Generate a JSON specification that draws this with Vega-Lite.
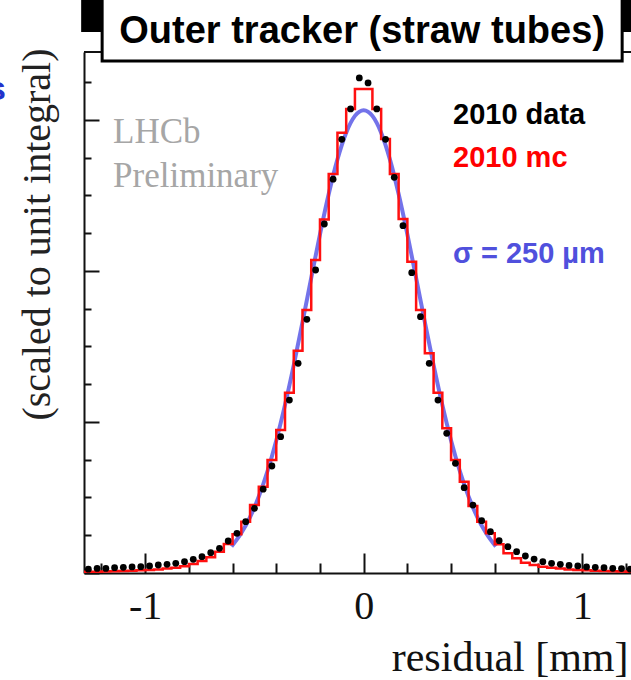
{
  "$schema": "https://vega.github.io/schema/vega-lite/v6.json",
  "width": 547,
  "height": 521,
  "autosize": "none",
  "padding": {"left": 84, "top": 52, "right": 0, "bottom": 107},
  "background": "white",
  "config": {"view": {"stroke": null}, "axis": {"grid": false}},
  "resolve": {"axis": {"x": "independent", "y": "independent"}},
  "datasets": {
    "hist": [
      {"x": -1.30, "data": 0.0005, "mc": 0.00014},
      {"x": -1.26, "data": 0.0005, "mc": 0.00015},
      {"x": -1.22, "data": 0.0006, "mc": 0.00017},
      {"x": -1.18, "data": 0.0006, "mc": 0.0002},
      {"x": -1.14, "data": 0.0007, "mc": 0.00022},
      {"x": -1.10, "data": 0.00075, "mc": 0.00025},
      {"x": -1.06, "data": 0.0008, "mc": 0.0003},
      {"x": -1.02, "data": 0.00084, "mc": 0.00035},
      {"x": -0.98, "data": 0.00093, "mc": 0.0004},
      {"x": -0.94, "data": 0.00106, "mc": 0.00048},
      {"x": -0.90, "data": 0.00115, "mc": 0.00058},
      {"x": -0.86, "data": 0.00128, "mc": 0.0007},
      {"x": -0.82, "data": 0.0015, "mc": 0.00088},
      {"x": -0.78, "data": 0.00181, "mc": 0.0012},
      {"x": -0.74, "data": 0.00216, "mc": 0.0016},
      {"x": -0.70, "data": 0.00269, "mc": 0.0021},
      {"x": -0.66, "data": 0.00327, "mc": 0.0028},
      {"x": -0.62, "data": 0.00424, "mc": 0.00384},
      {"x": -0.58, "data": 0.00526, "mc": 0.00512},
      {"x": -0.54, "data": 0.0068, "mc": 0.0068},
      {"x": -0.50, "data": 0.00857, "mc": 0.009},
      {"x": -0.46, "data": 0.0111, "mc": 0.01143},
      {"x": -0.42, "data": 0.01417, "mc": 0.01497},
      {"x": -0.38, "data": 0.01805, "mc": 0.01894},
      {"x": -0.34, "data": 0.0229, "mc": 0.02388},
      {"x": -0.30, "data": 0.02777, "mc": 0.02944},
      {"x": -0.26, "data": 0.0336, "mc": 0.03483},
      {"x": -0.22, "data": 0.04013, "mc": 0.04146},
      {"x": -0.18, "data": 0.04622, "mc": 0.04682},
      {"x": -0.14, "data": 0.05215, "mc": 0.05285},
      {"x": -0.10, "data": 0.05744, "mc": 0.05832},
      {"x": -0.06, "data": 0.06146, "mc": 0.06146},
      {"x": -0.02, "data": 0.06556, "mc": 0.0641},
      {"x": 0.02, "data": 0.0649, "mc": 0.0641},
      {"x": 0.06, "data": 0.06146, "mc": 0.06146},
      {"x": 0.10, "data": 0.05744, "mc": 0.05748},
      {"x": 0.14, "data": 0.05241, "mc": 0.05285},
      {"x": 0.18, "data": 0.046, "mc": 0.04689},
      {"x": 0.22, "data": 0.03977, "mc": 0.04123},
      {"x": 0.26, "data": 0.03395, "mc": 0.03483},
      {"x": 0.30, "data": 0.02777, "mc": 0.0291},
      {"x": 0.34, "data": 0.0229, "mc": 0.02388},
      {"x": 0.38, "data": 0.0185, "mc": 0.01916},
      {"x": 0.42, "data": 0.01453, "mc": 0.01497},
      {"x": 0.46, "data": 0.0113, "mc": 0.01209},
      {"x": 0.50, "data": 0.009, "mc": 0.00887},
      {"x": 0.54, "data": 0.00693, "mc": 0.0068},
      {"x": 0.58, "data": 0.00547, "mc": 0.00526},
      {"x": 0.62, "data": 0.00428, "mc": 0.0038},
      {"x": 0.66, "data": 0.00348, "mc": 0.0026},
      {"x": 0.70, "data": 0.00282, "mc": 0.00195},
      {"x": 0.74, "data": 0.00225, "mc": 0.00137},
      {"x": 0.78, "data": 0.00185, "mc": 0.00106},
      {"x": 0.82, "data": 0.0015, "mc": 0.00084},
      {"x": 0.86, "data": 0.00128, "mc": 0.0007},
      {"x": 0.90, "data": 0.00115, "mc": 0.00058},
      {"x": 0.94, "data": 0.001, "mc": 0.00048},
      {"x": 0.98, "data": 0.00093, "mc": 0.0004},
      {"x": 1.02, "data": 0.0008, "mc": 0.00035},
      {"x": 1.06, "data": 0.00075, "mc": 0.0003},
      {"x": 1.10, "data": 0.0007, "mc": 0.00025},
      {"x": 1.14, "data": 0.00062, "mc": 0.00022},
      {"x": 1.18, "data": 0.00058, "mc": 0.0002},
      {"x": 1.22, "data": 0.0005, "mc": 0.00017},
      {"x": 1.26, "data": 0.0005, "mc": 0.00015}
    ],
    "fit": [
      {"x": -0.605, "fit": 0.0035},
      {"x": -0.56, "fit": 0.00529},
      {"x": -0.52, "fit": 0.00741},
      {"x": -0.48, "fit": 0.01013},
      {"x": -0.44, "fit": 0.01351},
      {"x": -0.40, "fit": 0.01756},
      {"x": -0.36, "fit": 0.02227},
      {"x": -0.32, "fit": 0.02754},
      {"x": -0.28, "fit": 0.03322},
      {"x": -0.24, "fit": 0.03909},
      {"x": -0.20, "fit": 0.04485},
      {"x": -0.16, "fit": 0.05019},
      {"x": -0.12, "fit": 0.05478},
      {"x": -0.08, "fit": 0.05831},
      {"x": -0.04, "fit": 0.06054},
      {"x": 0.0, "fit": 0.0613},
      {"x": 0.04, "fit": 0.06054},
      {"x": 0.08, "fit": 0.05831},
      {"x": 0.12, "fit": 0.05478},
      {"x": 0.16, "fit": 0.05019},
      {"x": 0.20, "fit": 0.04485},
      {"x": 0.24, "fit": 0.03909},
      {"x": 0.28, "fit": 0.03322},
      {"x": 0.32, "fit": 0.02754},
      {"x": 0.36, "fit": 0.02227},
      {"x": 0.40, "fit": 0.01756},
      {"x": 0.44, "fit": 0.01351},
      {"x": 0.48, "fit": 0.01013},
      {"x": 0.52, "fit": 0.00741},
      {"x": 0.56, "fit": 0.00529},
      {"x": 0.605, "fit": 0.0035}
    ]
  },
  "layer": [
    {
      "data": {"name": "fit"},
      "mark": {"type": "line", "color": "#5a5ae6", "strokeWidth": 4, "opacity": 0.85, "interpolate": "monotone", "clip": true},
      "encoding": {
        "x": {
          "field": "x", "type": "quantitative",
          "scale": {"domain": [-1.28, 1.2235], "nice": false, "zero": false},
          "axis": {
            "orient": "bottom",
            "values": [-1, 0, 1],
            "tickSize": -20,
            "tickWidth": 2,
            "tickColor": "#111",
            "domainColor": "#111",
            "domainWidth": 2,
            "labelExpr": "datum.value < 0 ? '-' + abs(datum.value) : '' + datum.value",
            "labelFont": "Liberation Serif",
            "labelFontSize": 40,
            "labelColor": "#111",
            "labelPadding": 33,
            "labelFlush": false,
            "labelOverlap": false,
            "title": "residual [mm]",
            "titleFont": "Liberation Serif",
            "titleFontSize": 42,
            "titleFontWeight": "normal",
            "titleColor": "#111",
            "titleAlign": "right",
            "titleBaseline": "alphabetic",
            "titleX": 544,
            "titleY": 97
          }
        },
        "y": {
          "field": "fit", "type": "quantitative",
          "scale": {"domain": [0, 0.069], "nice": false, "zero": false},
          "axis": {
            "orient": "left",
            "values": [0, 0.02, 0.04, 0.06],
            "tickSize": -15,
            "tickWidth": 2,
            "tickColor": "#111",
            "domainColor": "#111",
            "domainWidth": 2,
            "labels": false,
            "title": "(scaled to unit integral)",
            "titleFont": "Liberation Serif",
            "titleFontSize": 40,
            "titleFontWeight": "normal",
            "titleColor": "#222",
            "titleAngle": -90,
            "titleAlign": "center",
            "titleBaseline": "middle",
            "titleX": -47,
            "titleY": 182
          }
        }
      }
    },
    {
      "data": {"name": "hist"},
      "mark": {"type": "line", "color": "#ff1010", "strokeWidth": 2.5, "interpolate": "step", "clip": true},
      "encoding": {
        "x": {
          "field": "x", "type": "quantitative",
          "axis": {
            "orient": "bottom",
            "values": [-1.2, -0.8, -0.6, -0.4, -0.2, 0.2, 0.4, 0.6, 0.8, 1.2],
            "tickSize": -10,
            "tickWidth": 2,
            "tickColor": "#111",
            "domain": false,
            "labels": false,
            "title": null
          }
        },
        "y": {
          "field": "mc", "type": "quantitative",
          "axis": {
            "orient": "left",
            "values": [0.005, 0.01, 0.015, 0.025, 0.03, 0.035, 0.045, 0.05, 0.055, 0.065],
            "tickSize": -7,
            "tickWidth": 2,
            "tickColor": "#111",
            "domain": false,
            "labels": false,
            "title": null
          }
        }
      }
    },
    {
      "data": {"name": "hist"},
      "mark": {"type": "circle", "color": "black", "size": 46, "opacity": 1, "clip": true},
      "encoding": {
        "x": {"field": "x", "type": "quantitative", "axis": null},
        "y": {"field": "data", "type": "quantitative", "axis": null}
      }
    },
    {
      "data": {"values": [{"v": 0.069}]},
      "mark": {"type": "rule", "color": "#111", "strokeWidth": 2},
      "encoding": {"y": {"field": "v", "type": "quantitative", "axis": null}}
    },
    {
      "data": {"values": [{"x": -1.293, "x2": 1.3, "y": 0.07166, "y2": 0.078}]},
      "mark": {"type": "rect", "color": "black"},
      "encoding": {
        "x": {"field": "x", "type": "quantitative", "axis": null},
        "x2": {"field": "x2"},
        "y": {"field": "y", "type": "quantitative", "axis": null},
        "y2": {"field": "y2"}
      }
    },
    {
      "data": {"values": [{"x": -1.197, "x2": 1.183, "y": 0.06781, "y2": 0.0775}]},
      "mark": {"type": "rect", "fill": "white", "stroke": "black", "strokeWidth": 3},
      "encoding": {
        "x": {"field": "x", "type": "quantitative", "axis": null},
        "x2": {"field": "x2"},
        "y": {"field": "y", "type": "quantitative", "axis": null},
        "y2": {"field": "y2"}
      }
    },
    {
      "data": {"values": [{"x": -0.007, "y": 0.07165, "t": "Outer tracker (straw tubes)"}]},
      "mark": {"type": "text", "font": "Liberation Sans", "fontWeight": "bold", "fontSize": 38, "color": "black", "align": "center", "baseline": "middle"},
      "encoding": {
        "x": {"field": "x", "type": "quantitative", "axis": null},
        "y": {"field": "y", "type": "quantitative", "axis": null},
        "text": {"field": "t"}
      }
    },
    {
      "data": {"values": [{"x": -1.147, "y": 0.05695, "t": "LHCb"}, {"x": -1.147, "y": 0.05113, "t": "Preliminary"}]},
      "mark": {"type": "text", "font": "Liberation Serif", "fontSize": 35, "color": "#a6a6a6", "align": "left", "baseline": "alphabetic"},
      "encoding": {
        "x": {"field": "x", "type": "quantitative", "axis": null},
        "y": {"field": "y", "type": "quantitative", "axis": null},
        "text": {"field": "t"}
      }
    },
    {
      "data": {"values": [{"x": 0.409, "y": 0.05947, "t": "2010 data", "c": "black"}, {"x": 0.409, "y": 0.05378, "t": "2010 mc", "c": "red"}]},
      "mark": {"type": "text", "font": "Liberation Sans", "fontWeight": "bold", "fontSize": 29, "align": "left", "baseline": "alphabetic"},
      "encoding": {
        "x": {"field": "x", "type": "quantitative", "axis": null},
        "y": {"field": "y", "type": "quantitative", "axis": null},
        "text": {"field": "t"},
        "color": {"field": "c", "type": "nominal", "scale": {"domain": ["black", "red"], "range": ["#000000", "#ff0000"]}, "legend": null}
      }
    },
    {
      "data": {"values": [{"x": 0.409, "y": 0.04106, "t": "σ = 250  µm"}]},
      "mark": {"type": "text", "font": "Liberation Sans", "fontWeight": "bold", "fontSize": 29, "color": "#5050dd", "align": "left", "baseline": "alphabetic"},
      "encoding": {
        "x": {"field": "x", "type": "quantitative", "axis": null},
        "y": {"field": "y", "type": "quantitative", "axis": null},
        "text": {"field": "t"}
      }
    },
    {
      "data": {"values": [{"x": -1.637, "y": 0.06265, "t": "s"}]},
      "mark": {"type": "text", "font": "Liberation Sans", "fontWeight": "bold", "fontSize": 34, "color": "#2233cc", "align": "right", "baseline": "alphabetic"},
      "encoding": {
        "x": {"field": "x", "type": "quantitative", "axis": null},
        "y": {"field": "y", "type": "quantitative", "axis": null},
        "text": {"field": "t"}
      }
    }
  ]
}
